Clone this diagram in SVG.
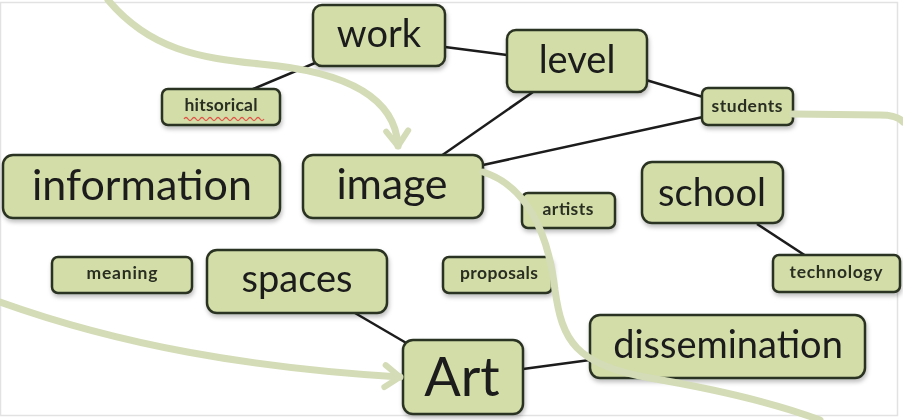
<svg xmlns="http://www.w3.org/2000/svg" width="903" height="420" viewBox="0 0 903 420">
<defs>
<style>
.box{fill:#d2dda8;stroke:#2b3222;stroke-width:2.5}
.t{font-family:Lato,"Open Sans","DejaVu Sans",sans-serif;fill:#1a1a1a;text-anchor:middle}
.big{font-size:38px}
.sm{font-size:17.5px;font-weight:bold;fill:#2a2f22}
.link{stroke:#1c1c1c;stroke-width:2.5;fill:none}
.flow{stroke:#d3dcb6;stroke-width:7;fill:none;stroke-linecap:round}
</style>
<marker id="chev" markerUnits="userSpaceOnUse" markerWidth="40" markerHeight="40" viewBox="-20 -20 40 40" refX="0" refY="0" orient="auto">
<path d="M-15,-11 L0,0 L-15,11" fill="none" stroke="#d3dcb6" stroke-width="6" stroke-linecap="round" stroke-linejoin="round"/>
</marker>
<filter id="sh" x="-10%" y="-10%" width="130%" height="140%">
<feDropShadow dx="1" dy="3" stdDeviation="2" flood-color="#000" flood-opacity="0.25"/>
</filter>
</defs>
<rect x="0" y="0" width="903" height="420" fill="#ffffff"/>
<rect x="0.5" y="2.5" width="897" height="413" fill="none" stroke="#e2e2e2" stroke-width="1.5"/>
<g id="connectors">
<line class="link" x1="315" y1="63" x2="253" y2="89"/>
<line class="link" x1="445" y1="47" x2="507" y2="55"/>
<line class="link" x1="646" y1="80" x2="703" y2="97"/>
<line class="link" x1="533" y1="92" x2="441" y2="156"/>
<line class="link" x1="703" y1="117" x2="483" y2="165"/>
<line class="link" x1="757" y1="224" x2="806" y2="256"/>
<line class="link" x1="355" y1="313" x2="408" y2="344"/>
<line class="link" x1="523" y1="369" x2="590" y2="360"/>
</g>
<g id="work" filter="url(#sh)"><rect class="box" x="313" y="5" width="132" height="61" rx="9"/><text class="t big" x="379" y="47">work</text></g>
<g id="level" filter="url(#sh)"><rect class="box" x="507" y="30" width="140" height="62" rx="9"/><text class="t big" x="577" y="73">level</text></g>
<g id="hitsorical" filter="url(#sh)"><rect class="box" x="162" y="89" width="118" height="36" rx="6"/><text class="t sm" x="221" y="111" textLength="73">hitsorical</text>
<path d="M184,119 q2,-3 4,0 q2,3 4,0 q2,-3 4,0 q2,3 4,0 q2,-3 4,0 q2,3 4,0 q2,-3 4,0 q2,3 4,0 q2,-3 4,0 q2,3 4,0 q2,-3 4,0 q2,3 4,0 q2,-3 4,0 q2,3 4,0 q2,-3 4,0 q2,3 4,0 q2,-3 4,0 q2,3 4,0 q2,-3 4,0 q2,3 4,0" fill="none" stroke="#e0574a" stroke-width="1.3"/></g>
<g id="students" filter="url(#sh)"><rect class="box" x="702" y="88" width="91" height="37" rx="6"/><text class="t sm" x="747" y="112" textLength="71">students</text></g>
<g id="information" filter="url(#sh)"><rect class="box" x="3" y="155" width="277" height="63" rx="10"/><text class="t" style="font-size:43px" x="142" y="200" textLength="220">information</text></g>
<g id="image" filter="url(#sh)"><rect class="box" x="303" y="155" width="180" height="63" rx="10"/><text class="t" style="font-size:43px" x="392" y="199" textLength="111">image</text></g>
<g id="artists" filter="url(#sh)"><rect class="box" x="522" y="193" width="93" height="35" rx="6"/><text class="t sm" x="568" y="215" textLength="51">artists</text></g>
<g id="school" filter="url(#sh)"><rect class="box" x="642" y="162" width="141" height="61" rx="10"/><text class="t big" x="712" y="206">school</text></g>
<g id="meaning" filter="url(#sh)"><rect class="box" x="52" y="257" width="140" height="36" rx="6"/><text class="t sm" x="122" y="279" textLength="71">meaning</text></g>
<g id="spaces" filter="url(#sh)"><rect class="box" x="207" y="250" width="180" height="63" rx="10"/><text class="t big" x="297" y="292">spaces</text></g>
<g id="proposals" filter="url(#sh)"><rect class="box" x="443" y="257" width="109" height="36" rx="6"/><text class="t sm" x="499" y="279" textLength="78">proposals</text></g>
<g id="technology" filter="url(#sh)"><rect class="box" x="773" y="255" width="127" height="37" rx="6"/><text class="t sm" x="836" y="278" textLength="93">technology</text></g>
<g id="Art" filter="url(#sh)"><rect class="box" x="403" y="340" width="120" height="74" rx="10"/><text class="t" style="font-size:54px" x="462" y="396">Art</text></g>
<g id="dissemination" filter="url(#sh)"><rect class="box" x="590" y="315" width="275" height="63" rx="10"/><text class="t big" x="728" y="358">dissemination</text></g>
<g id="flows">
<path class="flow" d="M108,0 C150,50 200,58 260,64 C330,70 395,90 398,146" marker-end="url(#chev)"/>
<path class="flow" d="M0,302 C120,345 250,368 400,377" marker-end="url(#chev)"/>
<path class="flow" d="M483,172 C525,185 548,230 555,290 C562,340 575,365 650,378 C720,390 780,405 820,420"/>
<path class="flow" d="M793,114 L880,115 C893,115 900,118 903,122"/>
</g>
</svg>
